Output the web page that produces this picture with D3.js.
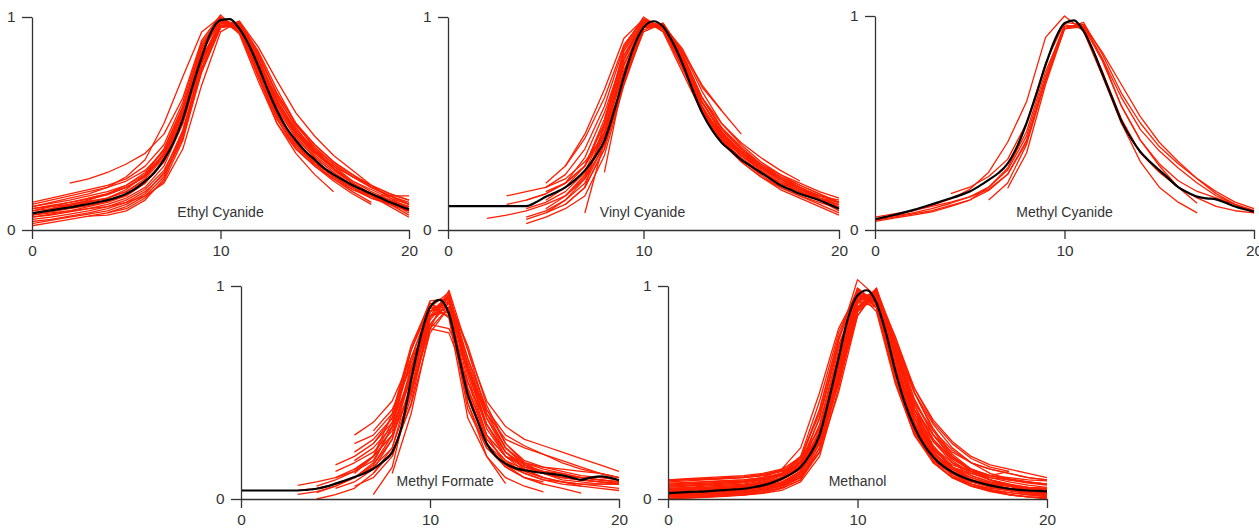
<!DOCTYPE html>
<html>
<head>
<meta charset="utf-8">
<script src="https://cdn.jsdelivr.net/npm/d3@7"></script>
<style>
  body { margin: 0; background: #fff; }
  svg { display: block; }
  text { font-family: "Liberation Sans", Arial, sans-serif; fill: #333; }
</style>
</head>
<body>
<svg id="chart" width="1259" height="530"></svg>
<script>
// ---- data -------------------------------------------------------------
const xTicks = [0, 10, 20];
const yTicks = [0, 1];
const panelNames = ["Ethyl Cyanide", "Vinyl Cyanide", "Methyl Cyanide", "Methyl Formate", "Methanol"];

// x positions of the averaged profile (half-unit steps)
const meanX = [0,0.5,1,1.5,2,2.5,3,3.5,4,4.5,5,5.5,6,6.5,7,7.5,8,8.5,9,9.5,10,
               10.5,11,11.5,12,12.5,13,13.5,14,14.5,15,15.5,16,16.5,17,17.5,18,18.5,19,19.5,20];

// averaged, normalised profiles
const ethylMean = [0.078,0.085,0.092,0.099,0.106,0.114,0.122,0.131,0.14,0.153,0.17,0.195,0.23,0.27,0.33,0.41,0.52,0.67,0.81,0.93,0.985,
                   0.99,0.945,0.87,0.77,0.66,0.56,0.48,0.42,0.37,0.33,0.29,0.26,0.235,0.21,0.19,0.17,0.15,0.13,0.113,0.097];
const vinylMean = [0.112,0.112,0.112,0.112,0.112,0.112,0.112,0.112,0.112,0.13,0.156,0.176,0.2,0.235,0.28,0.34,0.42,0.56,0.72,0.86,0.95,
                   0.98,0.955,0.88,0.78,0.66,0.55,0.47,0.41,0.37,0.33,0.3,0.27,0.24,0.21,0.19,0.17,0.155,0.14,0.12,0.10];
const methylCyanideMean = [0.05,0.06,0.07,0.081,0.093,0.106,0.12,0.134,0.148,0.163,0.18,0.205,0.234,0.265,0.31,0.39,0.5,0.63,0.77,0.89,0.966,
                   0.98,0.93,0.84,0.73,0.62,0.51,0.43,0.366,0.32,0.28,0.24,0.2,0.175,0.156,0.148,0.143,0.128,0.11,0.097,0.086];
const formateMean = [0.04,0.04,0.04,0.04,0.04,0.04,0.04,0.043,0.048,0.058,0.072,0.087,0.103,0.12,0.142,0.175,0.22,0.34,0.56,0.76,0.9,
                   0.935,0.87,0.68,0.49,0.37,0.26,0.2,0.166,0.145,0.135,0.128,0.122,0.117,0.111,0.1,0.09,0.1,0.106,0.1,0.088];
const methanolMean = [0.028,0.03,0.032,0.034,0.036,0.039,0.042,0.045,0.048,0.055,0.064,0.077,0.095,0.118,0.15,0.21,0.30,0.47,0.66,0.85,0.955,
                   0.98,0.92,0.78,0.6,0.45,0.338,0.255,0.197,0.155,0.127,0.104,0.088,0.075,0.064,0.055,0.048,0.043,0.04,0.038,0.036];

// individual runs: [first x, values at unit steps from there]
const ethylRuns = [
  [0, [0.11,0.125,0.14,0.16,0.18,0.21,0.26,0.36,0.56,0.86,0.99,0.95,0.8,0.6,0.45,0.36,0.29,0.23,0.19,0.15,0.12]],
  [0, [0.06,0.07,0.085,0.1,0.12,0.15,0.2,0.3,0.5,0.8,0.97,0.96,0.78,0.57,0.43,0.34,0.27,0.21,0.16,0.12,0.09]],
  [0, [0.03,0.045,0.06,0.075,0.09,0.12,0.17,0.27,0.47,0.78,0.96,0.97,0.8,0.59,0.45,0.35,0.28,0.22,0.17,0.12,0.07]],
  [0, [0.13,0.15,0.17,0.19,0.21,0.24,0.3,0.4,0.6,0.88,1.0,0.94,0.75,0.54,0.4,0.32,0.25,0.2,0.16,0.13,0.1]],
  [2, [0.22,0.24,0.27,0.31,0.36,0.45,0.62,0.89,1.01,0.93,0.72,0.52,0.39,0.31,0.26,0.21,0.17,0.14,0.11]],
  [3, [0.065,0.07,0.09,0.14,0.24,0.46,0.78,0.97,0.97,0.83,0.64,0.5,0.4,0.32,0.26,0.21,0.17,0.14]],
  [4, [0.08,0.1,0.15,0.23,0.42,0.75,0.95,0.98,0.84,0.66,0.5,0.38,0.29,0.22,0.17,0.13,0.11]],
  [0, [0.09,0.1,0.115,0.13,0.15,0.19,0.26,0.38,0.58,0.85,0.98,0.93,0.72,0.5,0.36,0.26,0.18]],
  [0, [0.07,0.085,0.1,0.115,0.135,0.165,0.22,0.33,0.54,0.83,0.99,0.95,0.76,0.54,0.4,0.31,0.24,0.18,0.13]],
  [0, [0.1,0.115,0.13,0.145,0.165,0.2,0.25,0.35,0.53,0.81,0.97,0.97,0.82,0.64,0.5,0.4,0.32,0.26,0.2,0.16,0.12]],
  [0, [0.05,0.06,0.075,0.09,0.11,0.14,0.19,0.28,0.45,0.75,0.95,0.98,0.83,0.63,0.48,0.37,0.29,0.22,0.17,0.13,0.08]],
  [0, [0.12,0.14,0.16,0.18,0.2,0.23,0.28,0.37,0.55,0.84,0.98,0.95,0.79,0.6,0.46,0.37,0.3,0.25,0.21,0.17,0.14]],
  [0, [0.04,0.05,0.065,0.08,0.1,0.13,0.18,0.26,0.44,0.76,0.96,0.97,0.81,0.61,0.47,0.37,0.3,0.23,0.18,0.14,0.1]],
  [1, [0.1,0.12,0.14,0.17,0.21,0.27,0.38,0.58,0.86,0.99,0.94,0.74,0.53,0.4,0.32,0.25,0.19,0.16,0.16,0.16]],
  [0, [0.08,0.095,0.11,0.13,0.15,0.18,0.24,0.34,0.52,0.8,0.97,0.96,0.79,0.58,0.44,0.34,0.27,0.21,0.17,0.14,0.11]],
  [0, [0.06,0.075,0.09,0.11,0.13,0.16,0.22,0.32,0.51,0.79,0.96,0.95,0.76,0.55,0.41,0.32,0.25,0.2,0.15,0.12,0.09]],
  [3, [0.15,0.17,0.2,0.25,0.35,0.55,0.85,0.99,0.96,0.79,0.6,0.47,0.38,0.31,0.25,0.2,0.16,0.13]],
  [0, [0.09,0.11,0.13,0.15,0.17,0.2,0.25,0.36,0.57,0.87,0.99,0.93,0.73,0.52,0.38,0.3,0.23,0.17,0.12]],
  [0, [0.1,0.11,0.12,0.135,0.15,0.18,0.23,0.32,0.5,0.8,0.98,0.97,0.8,0.62,0.49,0.39,0.31,0.25,0.2,0.16,0.12]],
  [0, [0.02,0.035,0.05,0.065,0.08,0.11,0.16,0.25,0.43,0.74,0.95,0.96,0.8,0.6,0.46,0.36,0.29,0.22,0.16,0.11,0.06]],
  [0, [0.11,0.13,0.15,0.17,0.2,0.25,0.33,0.5,0.72,0.93,1.0,0.92,0.7,0.5,0.38,0.3,0.24,0.19,0.15,0.12,0.09]],
  [0, [0.07,0.08,0.09,0.1,0.11,0.13,0.16,0.22,0.38,0.68,0.93,0.98,0.86,0.7,0.55,0.44,0.35,0.28,0.21,0.15,0.1]]
];

const vinylRuns = [
  [2, [0.055,0.07,0.09,0.12,0.16,0.24,0.4,0.7,0.95,0.96,0.8,0.6,0.46,0.37,0.3,0.24,0.19,0.15,0.11]],
  [3, [0.16,0.18,0.2,0.24,0.32,0.45,0.7,0.93,0.97,0.83,0.62,0.47,0.38,0.3,0.24,0.19,0.16,0.13]],
  [3, [0.12,0.14,0.17,0.22,0.3,0.46,0.74,0.96,0.96,0.8,0.58,0.44,0.35,0.28,0.22,0.18,0.14,0.1]],
  [4, [0.03,0.06,0.1,0.16,0.35,0.68,0.94,0.97,0.81,0.6,0.45,0.36,0.29,0.23,0.18,0.14,0.09]],
  [4, [0.05,0.08,0.12,0.2,0.38,0.69,0.95,0.97,0.82,0.62,0.48,0.39,0.31,0.25,0.2,0.15,0.11]],
  [5, [0.2,0.26,0.38,0.58,0.86,1.0,0.94,0.76,0.56,0.42,0.34,0.27,0.21,0.17,0.14,0.12]],
  [7, [0.08,0.42,0.8,0.98,0.95,0.8,0.6,0.46,0.36,0.29,0.23,0.19,0.16,0.14]],
  [8, [0.27,0.72,0.97,0.96,0.8,0.6,0.46,0.37,0.3,0.24,0.19,0.15,0.12]],
  [5, [0.1,0.16,0.26,0.44,0.75,0.96,0.96,0.84,0.68,0.56,0.45]],
  [6, [0.22,0.34,0.55,0.82,0.98,0.96,0.85,0.67,0.56]],
  [4, [0.1,0.13,0.18,0.27,0.48,0.78,0.96,0.95,0.8,0.62,0.5,0.41,0.34,0.28,0.23]],
  [5, [0.14,0.2,0.3,0.5,0.8,0.97,0.96,0.8,0.58,0.43,0.33,0.26,0.2,0.16,0.12,0.08]],
  [6, [0.16,0.25,0.46,0.8,0.99,0.95,0.77,0.55,0.41,0.32,0.25,0.2,0.16,0.13,0.1]],
  [4, [0.14,0.17,0.22,0.3,0.5,0.82,0.98,0.95,0.78,0.56,0.42,0.33,0.27,0.22,0.18,0.15,0.13]],
  [5, [0.08,0.14,0.22,0.4,0.72,0.95,0.97,0.84,0.65,0.5,0.4,0.32,0.26,0.21,0.17,0.13]],
  [6, [0.12,0.2,0.38,0.7,0.96,0.97,0.82,0.62,0.48,0.38,0.31,0.26,0.22,0.18,0.15]],
  [7, [0.2,0.5,0.85,0.99,0.95,0.79,0.58,0.44,0.35,0.28,0.22,0.18,0.14,0.1]],
  [4, [0.06,0.09,0.14,0.24,0.45,0.77,0.97,0.96,0.79,0.57,0.42,0.32,0.25,0.19,0.15,0.11,0.07]],
  [6, [0.3,0.43,0.62,0.87,0.99,0.94,0.76,0.57,0.44,0.36,0.3,0.25,0.21,0.17,0.13]],
  [5, [0.18,0.22,0.3,0.52,0.84,0.98,0.94,0.76,0.57,0.45,0.37,0.3,0.25,0.2,0.16]],
  [5, [0.22,0.3,0.45,0.66,0.9,0.99,0.93,0.74,0.55,0.43,0.35,0.29,0.24,0.2,0.16,0.13]]
];

const methylCyanideRuns = [
  [0, [0.05,0.07,0.09,0.115,0.145,0.19,0.27,0.41,0.6,0.9,1.0,0.93,0.72,0.5,0.36,0.27,0.2,0.15,0.11,0.09,0.08]],
  [0, [0.04,0.055,0.07,0.085,0.11,0.14,0.2,0.29,0.46,0.74,0.95,0.96,0.8,0.62,0.47,0.37,0.29,0.22,0.16,0.12,0.09]],
  [0, [0.06,0.075,0.09,0.11,0.13,0.155,0.19,0.26,0.42,0.7,0.94,0.97,0.82,0.64,0.5,0.39,0.31,0.24,0.17,0.12,0.08]],
  [6, [0.14,0.22,0.4,0.7,0.95,0.95,0.74,0.5,0.32,0.2,0.13,0.08]],
  [7, [0.195,0.36,0.68,0.94,0.96,0.8,0.58,0.42,0.3,0.2,0.125]],
  [0, [0.05,0.065,0.08,0.1,0.125,0.155,0.2,0.28,0.44,0.72,0.96,0.94,0.74,0.52,0.36]],
  [4, [0.17,0.2,0.25,0.33,0.5,0.78,0.97,0.96,0.83,0.68,0.53,0.41,0.32,0.24,0.18,0.13,0.1]],
  [0, [0.045,0.06,0.075,0.09,0.115,0.14,0.185,0.26,0.41,0.7,0.94,0.95,0.79,0.58,0.42,0.31,0.23,0.18,0.15,0.12,0.09]]
];

const formateRuns = [
  [3, [0.022,0.035,0.06,0.1,0.17,0.34,0.7,0.92,0.85,0.38,0.2,0.1,0.06,0.033]],
  [3, [0.064,0.08,0.1,0.13,0.2,0.36,0.66,0.9,0.9,0.52,0.28,0.18,0.14,0.12,0.11,0.1,0.09,0.08]],
  [4, [0.0,0.02,0.05,0.12,0.24,0.55,0.88,0.94,0.45,0.24,0.15,0.1,0.07,0.05,0.028]],
  [5, [0.13,0.17,0.22,0.32,0.6,0.88,0.92,0.6,0.35,0.22,0.16,0.13,0.11,0.1,0.09,0.08]],
  [6, [0.22,0.28,0.38,0.64,0.86,0.88,0.42,0.24,0.16,0.12,0.09,0.08,0.07,0.07,0.07]],
  [5, [0.05,0.08,0.14,0.28,0.58,0.9,0.97,0.62,0.4,0.28,0.24,0.21,0.17,0.14,0.12,0.1]],
  [6, [0.06,0.1,0.2,0.45,0.85,0.96,0.66,0.42,0.3,0.25,0.21,0.18,0.15,0.12,0.1]],
  [7, [0.02,0.15,0.52,0.88,0.94,0.48,0.28,0.18,0.12,0.09,0.07,0.06,0.05,0.04]],
  [4, [0.03,0.06,0.1,0.16,0.3,0.62,0.88,0.93,0.58,0.3,0.16,0.1,0.07]],
  [5, [0.1,0.14,0.2,0.3,0.5,0.8,0.9,0.62,0.38,0.22,0.14,0.1]],
  [6, [0.12,0.2,0.4,0.72,0.92,0.87,0.45,0.2,0.072]],
  [6, [0.3,0.36,0.46,0.66,0.82,0.8,0.62,0.38,0.24,0.17,0.14,0.12,0.1,0.09,0.08]],
  [7, [0.32,0.42,0.62,0.8,0.78,0.55,0.35,0.22,0.15]],
  [3, [0.04,0.05,0.07,0.1,0.16,0.28,0.6,0.88,0.95,0.6,0.33,0.2,0.15,0.12,0.1,0.09,0.08,0.075]],
  [5, [0.16,0.2,0.26,0.38,0.7,0.93,0.94,0.55,0.3,0.2,0.17,0.15,0.13,0.11,0.1,0.09]],
  [6, [0.18,0.24,0.34,0.56,0.84,0.95,0.7,0.46,0.34,0.28,0.25,0.22,0.19,0.16,0.13]],
  [7, [0.26,0.36,0.58,0.86,0.9,0.52,0.3,0.2,0.15,0.13,0.12,0.1,0.09,0.08]],
  [8, [0.2,0.48,0.86,0.97,0.62,0.35,0.2,0.13,0.1,0.08,0.07,0.06,0.05]],
  [5, [0.07,0.1,0.15,0.24,0.5,0.82,0.92,0.66,0.42,0.26,0.17,0.12,0.09,0.08,0.07,0.07]],
  [6, [0.14,0.2,0.3,0.52,0.82,0.93,0.72,0.44,0.26,0.18,0.15,0.14,0.13,0.12,0.1]],
  [4, [0.06,0.09,0.13,0.18,0.34,0.66,0.9,0.9,0.5,0.26,0.17,0.13,0.1,0.08,0.06]],
  [7, [0.12,0.22,0.44,0.78,0.9,0.64,0.4,0.24,0.16,0.12,0.1,0.09,0.08,0.07]],
  [6, [0.26,0.3,0.4,0.7,0.9,0.86,0.5,0.26,0.15,0.1,0.08]],
  [8, [0.12,0.4,0.8,0.98,0.7,0.4,0.24,0.16,0.12,0.1,0.09,0.08,0.07]]
];

const methanolRuns = [
  [0, [0.0,0.005,0.01,0.015,0.02,0.03,0.05,0.09,0.24,0.56,0.9,0.96,0.62,0.32,0.17,0.1,0.06,0.04,0.02,0.01,0.0]],
  [0, [0.09,0.095,0.1,0.105,0.11,0.12,0.14,0.19,0.33,0.62,0.92,0.93,0.62,0.42,0.3,0.22,0.17,0.14,0.12,0.1,0.09]],
  [0, [0.06,0.065,0.07,0.075,0.08,0.09,0.11,0.16,0.3,0.6,0.9,0.95,0.68,0.42,0.28,0.19,0.14,0.11,0.09,0.08,0.07]],
  [0, [0.02,0.025,0.03,0.035,0.04,0.05,0.07,0.12,0.3,0.66,0.97,0.9,0.55,0.3,0.17,0.1,0.07,0.05,0.04,0.03,0.02]],
  [0, [0.04,0.045,0.05,0.055,0.06,0.075,0.1,0.16,0.38,0.74,1.03,0.95,0.62,0.36,0.22,0.14,0.1,0.07,0.05,0.04,0.035]],
  [0, [0.01,0.015,0.02,0.025,0.03,0.04,0.06,0.11,0.28,0.62,0.94,0.97,0.7,0.42,0.25,0.15,0.09,0.06,0.04,0.03,0.02]],
  [0, [0.05,0.055,0.06,0.065,0.07,0.085,0.12,0.2,0.46,0.78,0.98,0.92,0.6,0.34,0.2,0.13,0.09,0.07,0.06,0.05,0.04]],
  [0, [0.03,0.035,0.04,0.045,0.05,0.06,0.08,0.13,0.3,0.62,0.92,0.98,0.7,0.44,0.28,0.18,0.12,0.09,0.07,0.05,0.04]],
  [0, [0.07,0.075,0.08,0.085,0.09,0.1,0.12,0.17,0.34,0.68,0.95,0.93,0.62,0.38,0.24,0.17,0.13,0.11,0.13]],
  [0, [0.015,0.02,0.025,0.03,0.035,0.045,0.065,0.1,0.22,0.55,0.88,0.98,0.76,0.5,0.32,0.2,0.13,0.09,0.06,0.04,0.03]],
  [0, [0.035,0.04,0.045,0.05,0.055,0.07,0.1,0.18,0.42,0.76,0.99,0.9,0.56,0.31,0.18,0.12,0.08,0.06,0.05,0.04,0.03]],
  [0, [0.08,0.085,0.09,0.095,0.1,0.11,0.13,0.18,0.3,0.58,0.89,0.97,0.68,0.45,0.32,0.23,0.17,0.14,0.12,0.1,0.09]],
  [0, [0.0,0.004,0.008,0.012,0.018,0.026,0.04,0.08,0.2,0.52,0.9,0.99,0.7,0.4,0.22,0.12,0.07,0.04,0.02,0.01,0.005]],
  [0, [0.045,0.05,0.055,0.06,0.065,0.08,0.11,0.17,0.38,0.72,0.96,0.94,0.64,0.38,0.23,0.15,0.11,0.08,0.065,0.055,0.05]],
  [0, [0.025,0.03,0.035,0.04,0.045,0.055,0.075,0.12,0.26,0.58,0.9,0.97,0.72,0.44,0.27,0.17,0.11,0.08,0.06,0.045,0.035]],
  [0, [0.055,0.06,0.065,0.07,0.08,0.1,0.14,0.24,0.5,0.8,0.97,0.88,0.54,0.3,0.18,0.12,0.09,0.07,0.06,0.055,0.05]],
  [0, [0.01,0.012,0.015,0.02,0.025,0.035,0.055,0.1,0.26,0.64,0.96,0.95,0.62,0.34,0.19,0.11,0.07,0.045,0.03,0.02,0.01]],
  [0, [0.065,0.07,0.075,0.08,0.085,0.095,0.115,0.15,0.26,0.55,0.86,0.98,0.72,0.5,0.35,0.24,0.17,0.12,0.095,0.08,0.07]],
  [0, [0.03,0.032,0.035,0.04,0.045,0.06,0.09,0.15,0.35,0.7,0.98,0.93,0.6,0.35,0.21,0.13,0.09,0.065,0.05,0.04,0.03]],
  [0, [0.02,0.022,0.025,0.03,0.04,0.05,0.07,0.11,0.22,0.5,0.86,0.99,0.74,0.5,0.33,0.21,0.14,0.09,0.06,0.04,0.03]],
  [0, [0.04,0.043,0.046,0.05,0.055,0.068,0.092,0.14,0.32,0.66,0.94,0.96,0.68,0.4,0.24,0.15,0.1,0.075,0.06,0.05,0.04]],
  [0, [0.085,0.09,0.095,0.1,0.105,0.115,0.135,0.2,0.4,0.72,0.93,0.9,0.6,0.36,0.23,0.16,0.13,0.11,0.1,0.09,0.085]],
  [0, [0.005,0.008,0.012,0.016,0.02,0.03,0.05,0.09,0.22,0.55,0.9,0.96,0.66,0.36,0.2,0.11,0.06,0.035,0.02,0.01,0.005]],
  [0, [0.05,0.052,0.055,0.06,0.066,0.078,0.1,0.15,0.32,0.64,0.93,0.97,0.72,0.46,0.3,0.2,0.14,0.1,0.08,0.065,0.055]],
  [0, [0.03,0.033,0.036,0.04,0.046,0.058,0.08,0.13,0.3,0.62,0.95,0.96,0.66,0.38,0.22,0.13,0.085,0.06,0.045,0.035,0.03]],
  [0, [0.06,0.063,0.066,0.07,0.076,0.09,0.12,0.19,0.42,0.75,0.96,0.92,0.62,0.4,0.27,0.19,0.14,0.11,0.09,0.075,0.065]],
  [0, [0.015,0.018,0.022,0.026,0.032,0.042,0.06,0.1,0.24,0.57,0.92,0.98,0.72,0.42,0.24,0.14,0.09,0.06,0.04,0.025,0.015]],
  [0, [0.075,0.078,0.082,0.086,0.09,0.1,0.12,0.16,0.29,0.57,0.88,0.96,0.76,0.52,0.36,0.26,0.19,0.15,0.13]],
  [0, [0.02,0.03,0.04,0.05,0.06,0.07,0.09,0.14,0.28,0.62,0.95,0.94,0.66,0.38,0.22,0.13,0.08,0.055,0.04,0.03,0.02]],
  [0, [0.07,0.072,0.075,0.078,0.082,0.09,0.11,0.16,0.3,0.64,0.96,0.9,0.58,0.34,0.21,0.15,0.12,0.1,0.09,0.08,0.07]],
  [0, [0.012,0.015,0.018,0.022,0.028,0.04,0.065,0.12,0.27,0.64,0.99,0.92,0.58,0.32,0.18,0.1,0.06,0.04,0.03,0.02,0.012]],
  [0, [0.045,0.047,0.05,0.053,0.058,0.07,0.095,0.15,0.3,0.61,0.93,0.98,0.74,0.47,0.3,0.19,0.13,0.09,0.07,0.055,0.045]],
  [0, [0.025,0.027,0.03,0.034,0.04,0.052,0.075,0.13,0.3,0.66,0.97,0.91,0.6,0.35,0.2,0.12,0.08,0.06,0.045,0.035,0.025]],
  [0, [0.09,0.092,0.094,0.097,0.1,0.11,0.13,0.17,0.27,0.54,0.88,0.95,0.74,0.52,0.37,0.27,0.2,0.16,0.14,0.12,0.1]]
];

// ---- drawing ----------------------------------------------------------
const svg = d3.select("#chart");
const runColor = "#ff1e00";
const axisColor = "#333";

// plotting frames (pixel extents of each small multiple) and label anchor
const frames = [
  { x0: 32,  x1: 409,  y0: 230, y1: 17,  lx: 10 },
  { x0: 448, x1: 839,  y0: 230, y1: 17,  lx: 9.95 },
  { x0: 875, x1: 1254, y0: 230, y1: 16,  lx: 10 },
  { x0: 241, x1: 619,  y0: 499, y1: 286, lx: 10.8 },
  { x0: 668, x1: 1047, y0: 499, y1: 286, lx: 10 }
];

const panels = [
  { name: panelNames[0], mean: ethylMean,         runs: ethylRuns },
  { name: panelNames[1], mean: vinylMean,         runs: vinylRuns },
  { name: panelNames[2], mean: methylCyanideMean, runs: methylCyanideRuns },
  { name: panelNames[3], mean: formateMean,       runs: formateRuns },
  { name: panelNames[4], mean: methanolMean,      runs: methanolRuns }
];

panels.forEach((p, i) => {
  const f = frames[i];
  const x = d3.scaleLinear().domain([0, 20]).range([f.x0, f.x1]);
  const y = d3.scaleLinear().domain([0, 1]).range([f.y0, f.y1]);
  const g = svg.append("g");

  // runs are joined point to point, the average is drawn smooth
  const runLine = d3.line()
    .x(d => x(d[0]))
    .y(d => y(d[1]));
  const meanLine = d3.line()
    .x(d => x(d[0]))
    .y(d => y(d[1]))
    .curve(d3.curveMonotoneX);

  // individual runs
  g.append("g")
    .selectAll("path")
    .data(p.runs.map(([start, vals]) =>
      vals.map((v, k) => [start + k, v]).filter(d => d[0] <= 20)))
    .join("path")
    .attr("d", runLine)
    .attr("fill", "none")
    .attr("stroke", runColor)
    .attr("stroke-width", 1.3)
    .attr("stroke-linejoin", "round");

  // averaged profile
  g.append("path")
    .datum(meanX.map((xv, k) => [xv, p.mean[k]]))
    .attr("d", meanLine)
    .attr("fill", "none")
    .attr("stroke", "#000")
    .attr("stroke-width", 2.2);

  // axes
  const xAxis = g.append("g")
    .attr("transform", `translate(0,${f.y0})`)
    .call(d3.axisBottom(x).tickValues(xTicks).tickSize(9).tickSizeOuter(0)
      .tickPadding(7).tickFormat(d3.format("d")));
  const yAxis = g.append("g")
    .attr("transform", `translate(${f.x0},0)`)
    .call(d3.axisLeft(y).tickValues(yTicks).tickSize(10).tickSizeOuter(0)
      .tickPadding(5).tickFormat(d3.format("d")));

  [xAxis, yAxis].forEach(a => {
    a.attr("font-family", null);
    a.select(".domain").attr("stroke", axisColor).attr("stroke-width", 1.3);
    a.selectAll(".tick line").attr("stroke", axisColor).attr("stroke-width", 1.3);
    a.selectAll(".tick text")
      .attr("fill", axisColor)
      .style("font-size", "14px")
      .attr("transform", "scale(1.1,1)");
  });

  // compound name
  g.append("text")
    .attr("x", x(f.lx))
    .attr("y", y(0.062))
    .attr("text-anchor", "middle")
    .style("font-size", "14px")
    .text(p.name);
});
</script>
</body>
</html>
